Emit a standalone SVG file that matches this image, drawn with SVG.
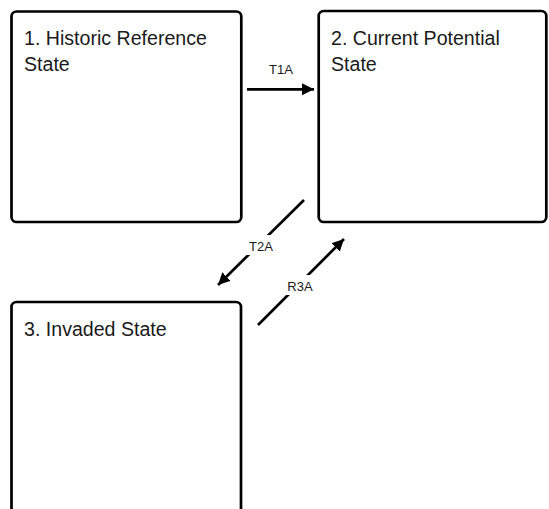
<svg xmlns="http://www.w3.org/2000/svg" width="549" height="509" viewBox="0 0 549 509">
<style>
.box{fill:#fff;stroke:#000;stroke-width:2.7}
.t{font-family:"Liberation Sans",Arial,sans-serif;font-size:19.6px;fill:#1a1a1a}
.lbl{font-family:"Liberation Sans",Arial,sans-serif;font-size:13px;fill:#1a1a1a;text-anchor:middle}
.c{stroke:#000;stroke-width:2.7;fill:none}
</style>
<defs>
<marker id="ah" markerUnits="userSpaceOnUse" markerWidth="14" markerHeight="14" viewBox="0 0 14 14" refX="12" refY="7" orient="auto">
<path d="M0,1 L12,7 L0,13 Z" fill="#000"/>
</marker>
</defs>
<rect width="549" height="509" fill="#fff"/>
<g id="node1">
<rect class="box" x="11.5" y="11.5" width="229.8" height="210.5" rx="5"/>
<text class="t" x="24" y="44.5">1. Historic Reference</text>
<text class="t" x="24" y="71">State</text>
</g>
<g id="node2">
<rect class="box" x="318.7" y="11" width="227.6" height="211" rx="5"/>
<text class="t" x="331" y="44.5">2. Current Potential</text>
<text class="t" x="331" y="71">State</text>
</g>
<g id="node3">
<rect class="box" x="11.5" y="302" width="229.5" height="230" rx="5"/>
<text class="t" x="24" y="336">3. Invaded State</text>
</g>
<g id="connectors">
<line class="c" x1="247" y1="89.3" x2="314" y2="89.3" marker-end="url(#ah)"/>
<text class="lbl" x="281" y="74">T1A</text>
<line class="c" x1="304" y1="200" x2="218" y2="285" marker-end="url(#ah)"/>
<rect x="244" y="235" width="34" height="20" fill="#fff"/>
<text class="lbl" x="261" y="251">T2A</text>
<line class="c" x1="258" y1="325" x2="344" y2="239" marker-end="url(#ah)"/>
<rect x="283" y="275" width="34" height="20" fill="#fff"/>
<text class="lbl" x="300" y="291">R3A</text>
</g>
</svg>
